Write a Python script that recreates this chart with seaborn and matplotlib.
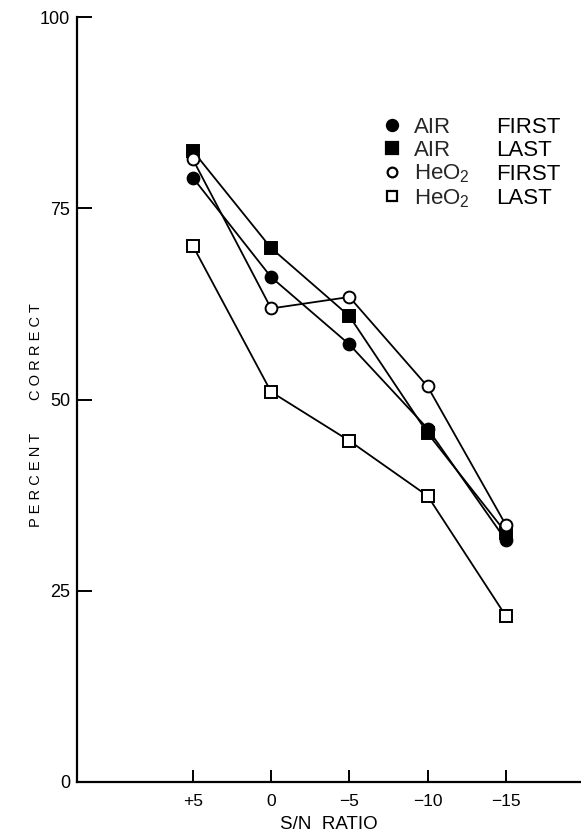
import matplotlib
matplotlib.use("Agg")
import matplotlib.pyplot as plt
import seaborn as sns
import pandas as pd
from matplotlib.lines import Line2D

sns.set_theme(style="white")
plt.rcParams['font.family'] = ['Liberation Sans', 'DejaVu Sans']
plt.rcParams['mathtext.default'] = 'regular'

# ---- data ----
sn_labels = ["+5", "0", "\u22125", "\u221210", "\u221215"]
air_first = [79.0, 66.0, 57.2, 46.2, 31.6]
air_last = [82.5, 69.8, 60.9, 45.6, 32.6]
heo2_first = [81.4, 61.9, 63.4, 51.7, 33.6]
heo2_last = [70.1, 51.0, 44.6, 37.4, 21.7]
y_ticks = [0, 25, 50, 75, 100]
y_tick_labels = ["0", "25", "50", "75", "100"]
gases = ["AIR", "AIR", "HeO$_2$", "HeO$_2$"]
conditions = ["FIRST", "LAST", "FIRST", "LAST"]

series_vals = [air_first, air_last, heo2_first, heo2_last]
markers = ["o", "s", "o", "s"]
faces = ["black", "black", "white", "white"]

W, H = 581, 835
fig = plt.figure(figsize=(W / 100, H / 100), dpi=100)
ax = fig.add_axes([77 / W, 1 - 782 / H, 1 - 77 / W, (782 - 17) / H])

pos = list(range(len(sn_labels)))
for vals, mk, fc in zip(series_vals, markers, faces):
    df = pd.DataFrame({"pos": pos, "val": vals})
    sns.lineplot(data=df, x="pos", y="val", ax=ax, color="black", lw=1.3,
                 marker=mk, markersize=8.5 if mk == "o" else 8.3,
                 markerfacecolor=fc, markeredgecolor="black", markeredgewidth=1.4)

ax.set_xlim(-1.48, 4.96)
ax.set_ylim(0, 100)
ax.set_xticks(pos)
ax.set_xticklabels(sn_labels)
ax.set_yticks(y_ticks)
ax.set_yticklabels(y_tick_labels)

for s in ["top", "right"]:
    ax.spines[s].set_visible(False)
for s in ["left", "bottom"]:
    ax.spines[s].set_color("black")
    ax.spines[s].set_linewidth(1.6)

ax.tick_params(axis="y", direction="in", length=11, width=1.4, pad=5,
               labelsize=13, colors="black", left=True)
ax.tick_params(axis="x", direction="in", length=9, width=1.4, pad=9,
               labelsize=12.5, colors="black", bottom=True)

ax.set_xlabel("S/N  RATIO", fontsize=13.5, color="black", labelpad=5)
ax.set_ylabel("P E R C E N T        C O R R E C T", fontsize=10.5, color="black")
ax.yaxis.set_label_coords(-0.068, 0.48)

# legend: markers + gas names; conditions aligned on the same baselines
handles = []
for mk, fc in zip(markers, faces):
    handles.append(Line2D([], [], ls="none", marker=mk,
                          markersize=8 if fc == "black" else 7,
                          markerfacecolor=fc, markeredgecolor="black", markeredgewidth=1.6))

leg = ax.legend(handles, gases, frameon=False, fontsize=16,
                loc="upper left", bbox_to_anchor=((386 - 77) / 505, 1 - (117 - 17) / 765),
                handlelength=0.6, handletextpad=0.7, labelspacing=0.08,
                borderpad=0, borderaxespad=0)

fig.canvas.draw()
for txt, cond in zip(leg.get_texts(), conditions):
    xd, yd = txt.get_transform().transform(txt.get_position())
    fig.text(496 / W, yd / H, cond, fontsize=16, color="black",
             ha="left", va="baseline")

fig.savefig("out.png", dpi=100)
